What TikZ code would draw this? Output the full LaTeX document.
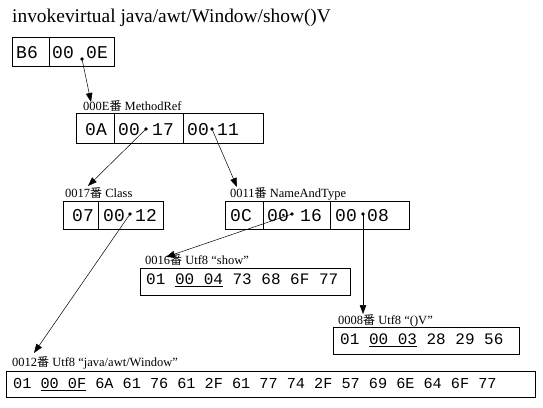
\documentclass[tikz,border=0pt]{standalone}
\usepackage{fontspec}
\setmainfont{Liberation Serif}
\newfontfamily\monof{Liberation Mono}
\newfontfamily\cjkf{Noto Sans CJK SC}
\usetikzlibrary{arrows.meta}
\newcommand\ulbox[1]{\setbox0\hbox{#1}\rlap{\rule[-3pt]{\wd0}{0.8pt}}\box0\relax}
\newcommand\ban{{\cjkf\fontsize{12}{12}\selectfont 番}}
\begin{document}
\begin{tikzpicture}[x=1pt,y=-1pt,
  frame/.style={draw, line width=0.8pt, inner sep=0pt, anchor=north west},
  sep/.style={line width=0.8pt},
  big/.style={font=\monof\fontsize{18}{18}\selectfont, inner sep=0pt, anchor=base west},
  small/.style={font=\monof\fontsize{16}{16}\selectfont, inner sep=0pt, anchor=base west},
  tiny/.style={font=\monof\fontsize{15.2}{15}\selectfont, inner sep=0pt, anchor=base west},
  lbl/.style={font=\fontsize{12.5}{12.5}\selectfont, inner sep=0pt, anchor=base west},
  ptr/.style={line width=0.5pt, -{Triangle[length=9pt,width=6.5pt]}},
  pt/.style={circle, fill, inner sep=0pt, minimum size=3.8pt}]
\useasboundingbox (0,0) rectangle (543,407);
\fill[white] (0,0) rectangle (543,407);

\node[anchor=base west, inner sep=0pt, font=\fontsize{19.4}{19.4}\selectfont] (title) at (12,22) {invokevirtual java/awt/Window/show()V};

% box 1
\node[frame, minimum width=102pt, minimum height=29pt] (b1) at (12,37) {};
\draw[sep] (49,37) -- (49,66);
\node[big] (b1a) at (16,58) {B6};
\node[big] (b1b) at (52,58) {00};
\node[big] (b1c) at (86,58) {0E};
\node[pt] (d1) at (82,59) {};

% box 2
\node[lbl] (l1) at (83,110) {000E\ban{} MethodRef};
\node[frame, minimum width=187pt, minimum height=30pt] (b2) at (76,113) {};
\draw[sep] (114,113) -- (114,143);
\draw[sep] (183,113) -- (183,143);
\node[big] (b2a) at (85,135) {0A};
\node[big] (b2b) at (118,135) {00};
\node[big] (b2c) at (152,135) {17};
\node[big] (b2d) at (187,135) {00};
\node[big] (b2e) at (217,135) {11};
\node[pt] (d2) at (146,129) {};
\node[pt] (d3) at (212,129) {};

% box 3
\node[lbl] (l2) at (65,197) {0017\ban{} Class};
\node[frame, minimum width=100pt, minimum height=28pt] (b3) at (63,201) {};
\draw[sep] (98,201) -- (98,229);
\node[big] (b3a) at (72,221) {07};
\node[big] (b3b) at (103,221) {00};
\node[big] (b3c) at (135,221) {12};
\node[pt] (d4) at (130,214) {};

% box 4
\node[lbl] (l3) at (230,197) {0011\ban{} NameAndType};
\node[frame, minimum width=184pt, minimum height=28pt] (b4) at (225,201) {};
\draw[sep] (263,201) -- (263,229);
\draw[sep] (330,201) -- (330,229);
\node[big] (b4a) at (230,221) {0C};
\node[big] (b4b) at (267,221) {00};
\node[big] (b4c) at (300,221) {16};
\node[big] (b4d) at (335,221) {00};
\node[big] (b4e) at (367,221) {08};
\node[pt] (d5) at (292,214) {};
\node[pt] (d6) at (363,214) {};

% box 5
\node[lbl] (l4) at (145,264) {0016\ban{} Utf8 “show”};
\node[frame, minimum width=210pt, minimum height=27pt] (b5) at (140,268) {};
\node[small] (b5t) at (146,284) {01 \ulbox{00 04} 73 68 6F 77};

% box 6
\node[lbl] (l5) at (338,324) {0008\ban{} Utf8 “()V”};
\node[frame, minimum width=186pt, minimum height=27pt] (b6) at (333,327) {};
\node[small] (b6t) at (340,344) {01 \ulbox{00 03} 28 29 56};

% box 7
\node[lbl] (l6) at (12,366) {0012\ban{} Utf8 “java/awt/Window”};
\node[frame, minimum width=529pt, minimum height=26pt] (b7) at (6,371) {};
\node[tiny] (b7t) at (13,388) {01 \ulbox{00 0F} 6A 61 76 61 2F 61 77 74 2F 57 69 6E 64 6F 77};

% arrows
\coordinate (t1) at (91,102);
\coordinate (t2) at (88,186);
\coordinate (t3) at (237,187);
\coordinate (t4) at (166,257);
\coordinate (t5) at (363,314);
\coordinate (t6) at (34,353);
\draw[ptr] (d1.center) -- (t1);
\draw[ptr] (d2.center) -- (t2);
\draw[ptr] (d3.center) -- (t3);
\draw[ptr] (d5.center) -- (t4);
\draw[ptr] (d6.center) -- (t5);
\draw[ptr] (d4.center) -- (t6);
\end{tikzpicture}
\end{document}
